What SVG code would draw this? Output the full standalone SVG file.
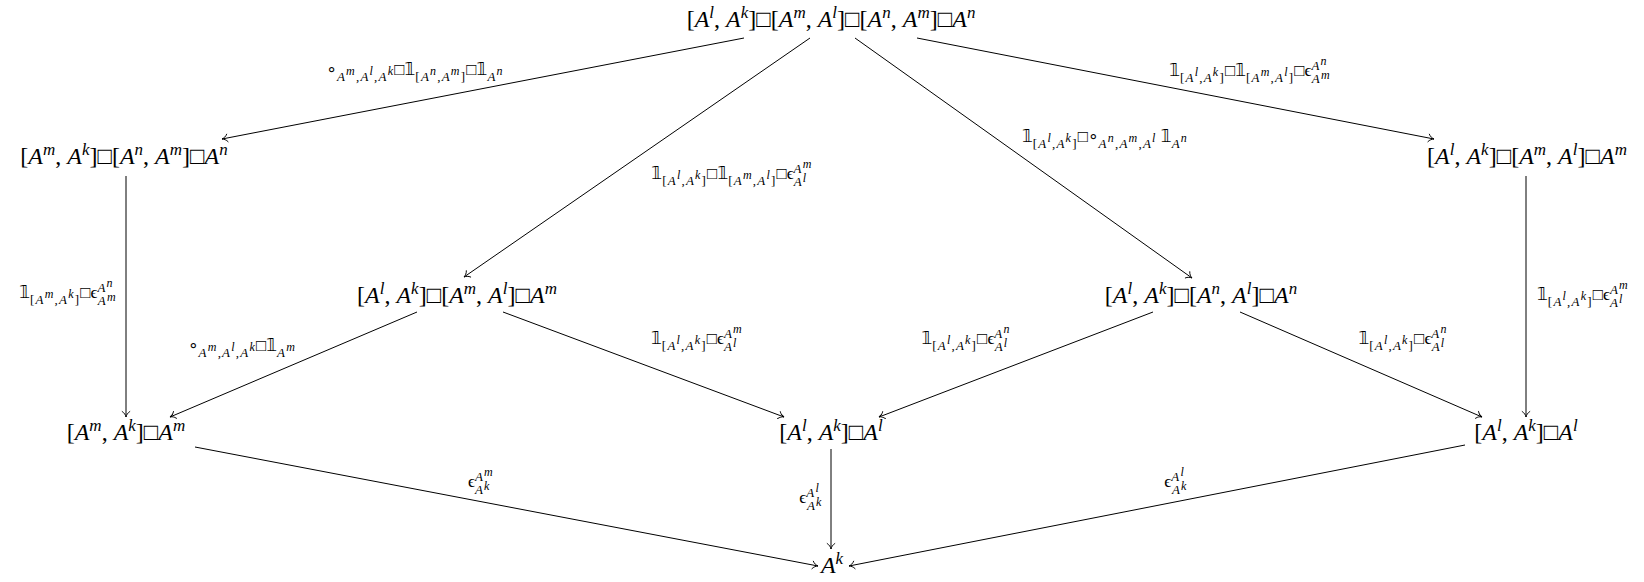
<svg xmlns="http://www.w3.org/2000/svg" width="1644" height="582" viewBox="0 0 1644 582">
<style>
.n{font-family:"Liberation Serif","DejaVu Serif","DejaVu Sans",serif;font-size:24px;fill:#000;text-anchor:middle}
.l{font-family:"Liberation Serif","DejaVu Serif","DejaVu Sans",serif;font-size:17px;fill:#000;text-anchor:middle}
.i{font-style:italic}
.p{font-size:17px;font-style:italic}
.s{font-size:13px;letter-spacing:1.2px}
.t{font-size:12px;font-style:italic;letter-spacing:1.2px}
.b{font-family:"DejaVu Sans","DejaVu Serif",sans-serif;fill:#000}
.e line{stroke:#000;stroke-width:1;fill:none}
</style>
<defs>
<marker id="ar" viewBox="-7 -5 8 10" refX="0" refY="0" markerWidth="8" markerHeight="10" orient="auto" markerUnits="userSpaceOnUse"><path d="M-5.5,-3.8 C-4.2,-1.6 -1.8,-0.4 0,0 C-1.8,0.4 -4.2,1.6 -5.5,3.8" fill="none" stroke="#000" stroke-width="0.9" stroke-linecap="round"/></marker>
</defs>
<g id="edges" class="e">
<line x1="744" y1="38" x2="222" y2="139" marker-end="url(#ar)"/>
<line x1="810" y1="38" x2="464" y2="277" marker-end="url(#ar)"/>
<line x1="855" y1="38" x2="1192" y2="278" marker-end="url(#ar)"/>
<line x1="917" y1="38" x2="1434" y2="139" marker-end="url(#ar)"/>
<line x1="126" y1="176" x2="126" y2="417" marker-end="url(#ar)"/>
<line x1="1526" y1="176" x2="1526" y2="417" marker-end="url(#ar)"/>
<line x1="417" y1="312" x2="170" y2="417" marker-end="url(#ar)"/>
<line x1="503" y1="312" x2="784" y2="417" marker-end="url(#ar)"/>
<line x1="1153" y1="312" x2="879" y2="417" marker-end="url(#ar)"/>
<line x1="1240" y1="312" x2="1482" y2="417" marker-end="url(#ar)"/>
<line x1="195" y1="447" x2="818" y2="566" marker-end="url(#ar)"/>
<line x1="831" y1="449" x2="831" y2="549" marker-end="url(#ar)"/>
<line x1="1465" y1="445" x2="849" y2="566" marker-end="url(#ar)"/>
</g>
<g id="edge-labels">
<text class="l" x="415" y="75"><tspan class="b">∘</tspan><tspan class="s i" dy="6">A</tspan><tspan class="t" dy="-6">m</tspan><tspan class="s" dy="6">,</tspan><tspan class="s i">A</tspan><tspan class="t" dy="-6">l</tspan><tspan class="s" dy="6">,</tspan><tspan class="s i">A</tspan><tspan class="t" dy="-6">k</tspan><tspan>□</tspan><tspan class="b">𝟙</tspan><tspan class="s" dy="6">[</tspan><tspan class="s i">A</tspan><tspan class="t" dy="-6">n</tspan><tspan class="s" dy="6">,</tspan><tspan class="s i">A</tspan><tspan class="t" dy="-6">m</tspan><tspan class="s" dy="6">]</tspan><tspan dy="-6">□</tspan><tspan class="b">𝟙</tspan><tspan class="s i" dy="6">A</tspan><tspan class="t" dy="-6">n</tspan></text>
<text class="l" x="1250" y="76"><tspan class="b">𝟙</tspan><tspan class="s" dy="6">[</tspan><tspan class="s i">A</tspan><tspan class="t" dy="-6">l</tspan><tspan class="s" dy="6">,</tspan><tspan class="s i">A</tspan><tspan class="t" dy="-6">k</tspan><tspan class="s" dy="6">]</tspan><tspan dy="-6">□</tspan><tspan class="b">𝟙</tspan><tspan class="s" dy="6">[</tspan><tspan class="s i">A</tspan><tspan class="t" dy="-6">m</tspan><tspan class="s" dy="6">,</tspan><tspan class="s i">A</tspan><tspan class="t" dy="-6">l</tspan><tspan class="s" dy="6">]</tspan><tspan dy="-6">□ϵ</tspan><tspan class="s i" dy="-6">A</tspan><tspan class="t" dy="-5">n</tspan><tspan class="s i" dx="-16" dy="18">A</tspan><tspan class="t" dy="-4">m</tspan></text>
<text class="l" x="732" y="179"><tspan class="b">𝟙</tspan><tspan class="s" dy="6">[</tspan><tspan class="s i">A</tspan><tspan class="t" dy="-6">l</tspan><tspan class="s" dy="6">,</tspan><tspan class="s i">A</tspan><tspan class="t" dy="-6">k</tspan><tspan class="s" dy="6">]</tspan><tspan dy="-6">□</tspan><tspan class="b">𝟙</tspan><tspan class="s" dy="6">[</tspan><tspan class="s i">A</tspan><tspan class="t" dy="-6">m</tspan><tspan class="s" dy="6">,</tspan><tspan class="s i">A</tspan><tspan class="t" dy="-6">l</tspan><tspan class="s" dy="6">]</tspan><tspan dy="-6">□ϵ</tspan><tspan class="s i" dy="-6">A</tspan><tspan class="t" dy="-5">m</tspan><tspan class="s i" dx="-19" dy="18">A</tspan><tspan class="t" dy="-4">l</tspan></text>
<text class="l" x="1105" y="142"><tspan class="b">𝟙</tspan><tspan class="s" dy="6">[</tspan><tspan class="s i">A</tspan><tspan class="t" dy="-6">l</tspan><tspan class="s" dy="6">,</tspan><tspan class="s i">A</tspan><tspan class="t" dy="-6">k</tspan><tspan class="s" dy="6">]</tspan><tspan dy="-6">□</tspan><tspan class="b">∘</tspan><tspan class="s i" dy="6">A</tspan><tspan class="t" dy="-6">n</tspan><tspan class="s" dy="6">,</tspan><tspan class="s i">A</tspan><tspan class="t" dy="-6">m</tspan><tspan class="s" dy="6">,</tspan><tspan class="s i">A</tspan><tspan class="t" dy="-6">l</tspan><tspan> </tspan><tspan class="b">𝟙</tspan><tspan class="s i" dy="6">A</tspan><tspan class="t" dy="-6">n</tspan></text>
<text class="l" x="68" y="298"><tspan class="b">𝟙</tspan><tspan class="s" dy="6">[</tspan><tspan class="s i">A</tspan><tspan class="t" dy="-6">m</tspan><tspan class="s" dy="6">,</tspan><tspan class="s i">A</tspan><tspan class="t" dy="-6">k</tspan><tspan class="s" dy="6">]</tspan><tspan dy="-6">□ϵ</tspan><tspan class="s i" dy="-6">A</tspan><tspan class="t" dy="-5">n</tspan><tspan class="s i" dx="-16" dy="18">A</tspan><tspan class="t" dy="-4">m</tspan></text>
<text class="l" x="1583" y="300"><tspan class="b">𝟙</tspan><tspan class="s" dy="6">[</tspan><tspan class="s i">A</tspan><tspan class="t" dy="-6">l</tspan><tspan class="s" dy="6">,</tspan><tspan class="s i">A</tspan><tspan class="t" dy="-6">k</tspan><tspan class="s" dy="6">]</tspan><tspan dy="-6">□ϵ</tspan><tspan class="s i" dy="-6">A</tspan><tspan class="t" dy="-5">m</tspan><tspan class="s i" dx="-19" dy="18">A</tspan><tspan class="t" dy="-4">l</tspan></text>
<text class="l" x="242" y="351"><tspan class="b">∘</tspan><tspan class="s i" dy="6">A</tspan><tspan class="t" dy="-6">m</tspan><tspan class="s" dy="6">,</tspan><tspan class="s i">A</tspan><tspan class="t" dy="-6">l</tspan><tspan class="s" dy="6">,</tspan><tspan class="s i">A</tspan><tspan class="t" dy="-6">k</tspan><tspan>□</tspan><tspan class="b">𝟙</tspan><tspan class="s i" dy="6">A</tspan><tspan class="t" dy="-6">m</tspan></text>
<text class="l" x="697" y="344"><tspan class="b">𝟙</tspan><tspan class="s" dy="6">[</tspan><tspan class="s i">A</tspan><tspan class="t" dy="-6">l</tspan><tspan class="s" dy="6">,</tspan><tspan class="s i">A</tspan><tspan class="t" dy="-6">k</tspan><tspan class="s" dy="6">]</tspan><tspan dy="-6">□ϵ</tspan><tspan class="s i" dy="-6">A</tspan><tspan class="t" dy="-5">m</tspan><tspan class="s i" dx="-19" dy="18">A</tspan><tspan class="t" dy="-4">l</tspan></text>
<text class="l" x="966" y="344"><tspan class="b">𝟙</tspan><tspan class="s" dy="6">[</tspan><tspan class="s i">A</tspan><tspan class="t" dy="-6">l</tspan><tspan class="s" dy="6">,</tspan><tspan class="s i">A</tspan><tspan class="t" dy="-6">k</tspan><tspan class="s" dy="6">]</tspan><tspan dy="-6">□ϵ</tspan><tspan class="s i" dy="-6">A</tspan><tspan class="t" dy="-5">n</tspan><tspan class="s i" dx="-16" dy="18">A</tspan><tspan class="t" dy="-4">l</tspan></text>
<text class="l" x="1403" y="344"><tspan class="b">𝟙</tspan><tspan class="s" dy="6">[</tspan><tspan class="s i">A</tspan><tspan class="t" dy="-6">l</tspan><tspan class="s" dy="6">,</tspan><tspan class="s i">A</tspan><tspan class="t" dy="-6">k</tspan><tspan class="s" dy="6">]</tspan><tspan dy="-6">□ϵ</tspan><tspan class="s i" dy="-6">A</tspan><tspan class="t" dy="-5">n</tspan><tspan class="s i" dx="-16" dy="18">A</tspan><tspan class="t" dy="-4">l</tspan></text>
<text class="l" x="481" y="487">ϵ<tspan class="s i" dy="-6">A</tspan><tspan class="t" dy="-5">m</tspan><tspan class="s i" dx="-19" dy="18">A</tspan><tspan class="t" dy="-4">k</tspan></text>
<text class="l" x="811" y="503">ϵ<tspan class="s i" dy="-6">A</tspan><tspan class="t" dy="-5">l</tspan><tspan class="s i" dx="-13" dy="18">A</tspan><tspan class="t" dy="-4">k</tspan></text>
<text class="l" x="1176" y="487">ϵ<tspan class="s i" dy="-6">A</tspan><tspan class="t" dy="-5">l</tspan><tspan class="s i" dx="-13" dy="18">A</tspan><tspan class="t" dy="-4">k</tspan></text>
</g>
<g id="top">
<text class="n" x="831" y="27">[<tspan class="i">A</tspan><tspan class="p" dy="-9">l</tspan><tspan dy="9">, </tspan><tspan class="i">A</tspan><tspan class="p" dy="-9">k</tspan><tspan dy="9">]□[</tspan><tspan class="i">A</tspan><tspan class="p" dy="-9">m</tspan><tspan dy="9">, </tspan><tspan class="i">A</tspan><tspan class="p" dy="-9">l</tspan><tspan dy="9">]□[</tspan><tspan class="i">A</tspan><tspan class="p" dy="-9">n</tspan><tspan dy="9">, </tspan><tspan class="i">A</tspan><tspan class="p" dy="-9">m</tspan><tspan dy="9">]□</tspan><tspan class="i">A</tspan><tspan class="p" dy="-9">n</tspan></text>
</g>
<g id="r2-left">
<text class="n" x="124" y="164">[<tspan class="i">A</tspan><tspan class="p" dy="-9">m</tspan><tspan dy="9">, </tspan><tspan class="i">A</tspan><tspan class="p" dy="-9">k</tspan><tspan dy="9">]□[</tspan><tspan class="i">A</tspan><tspan class="p" dy="-9">n</tspan><tspan dy="9">, </tspan><tspan class="i">A</tspan><tspan class="p" dy="-9">m</tspan><tspan dy="9">]□</tspan><tspan class="i">A</tspan><tspan class="p" dy="-9">n</tspan></text>
</g>
<g id="r2-right">
<text class="n" x="1527" y="164">[<tspan class="i">A</tspan><tspan class="p" dy="-9">l</tspan><tspan dy="9">, </tspan><tspan class="i">A</tspan><tspan class="p" dy="-9">k</tspan><tspan dy="9">]□[</tspan><tspan class="i">A</tspan><tspan class="p" dy="-9">m</tspan><tspan dy="9">, </tspan><tspan class="i">A</tspan><tspan class="p" dy="-9">l</tspan><tspan dy="9">]□</tspan><tspan class="i">A</tspan><tspan class="p" dy="-9">m</tspan></text>
</g>
<g id="r3-left">
<text class="n" x="457" y="303">[<tspan class="i">A</tspan><tspan class="p" dy="-9">l</tspan><tspan dy="9">, </tspan><tspan class="i">A</tspan><tspan class="p" dy="-9">k</tspan><tspan dy="9">]□[</tspan><tspan class="i">A</tspan><tspan class="p" dy="-9">m</tspan><tspan dy="9">, </tspan><tspan class="i">A</tspan><tspan class="p" dy="-9">l</tspan><tspan dy="9">]□</tspan><tspan class="i">A</tspan><tspan class="p" dy="-9">m</tspan></text>
</g>
<g id="r3-right">
<text class="n" x="1201" y="303">[<tspan class="i">A</tspan><tspan class="p" dy="-9">l</tspan><tspan dy="9">, </tspan><tspan class="i">A</tspan><tspan class="p" dy="-9">k</tspan><tspan dy="9">]□[</tspan><tspan class="i">A</tspan><tspan class="p" dy="-9">n</tspan><tspan dy="9">, </tspan><tspan class="i">A</tspan><tspan class="p" dy="-9">l</tspan><tspan dy="9">]□</tspan><tspan class="i">A</tspan><tspan class="p" dy="-9">n</tspan></text>
</g>
<g id="r4-left">
<text class="n" x="126" y="440">[<tspan class="i">A</tspan><tspan class="p" dy="-9">m</tspan><tspan dy="9">, </tspan><tspan class="i">A</tspan><tspan class="p" dy="-9">k</tspan><tspan dy="9">]□</tspan><tspan class="i">A</tspan><tspan class="p" dy="-9">m</tspan></text>
</g>
<g id="r4-center">
<text class="n" x="831" y="440">[<tspan class="i">A</tspan><tspan class="p" dy="-9">l</tspan><tspan dy="9">, </tspan><tspan class="i">A</tspan><tspan class="p" dy="-9">k</tspan><tspan dy="9">]□</tspan><tspan class="i">A</tspan><tspan class="p" dy="-9">l</tspan></text>
</g>
<g id="r4-right">
<text class="n" x="1526" y="440">[<tspan class="i">A</tspan><tspan class="p" dy="-9">l</tspan><tspan dy="9">, </tspan><tspan class="i">A</tspan><tspan class="p" dy="-9">k</tspan><tspan dy="9">]□</tspan><tspan class="i">A</tspan><tspan class="p" dy="-9">l</tspan></text>
</g>
<g id="bottom">
<text class="n" x="832" y="573"><tspan class="i">A</tspan><tspan class="p" dy="-9">k</tspan></text>
</g>
</svg>
